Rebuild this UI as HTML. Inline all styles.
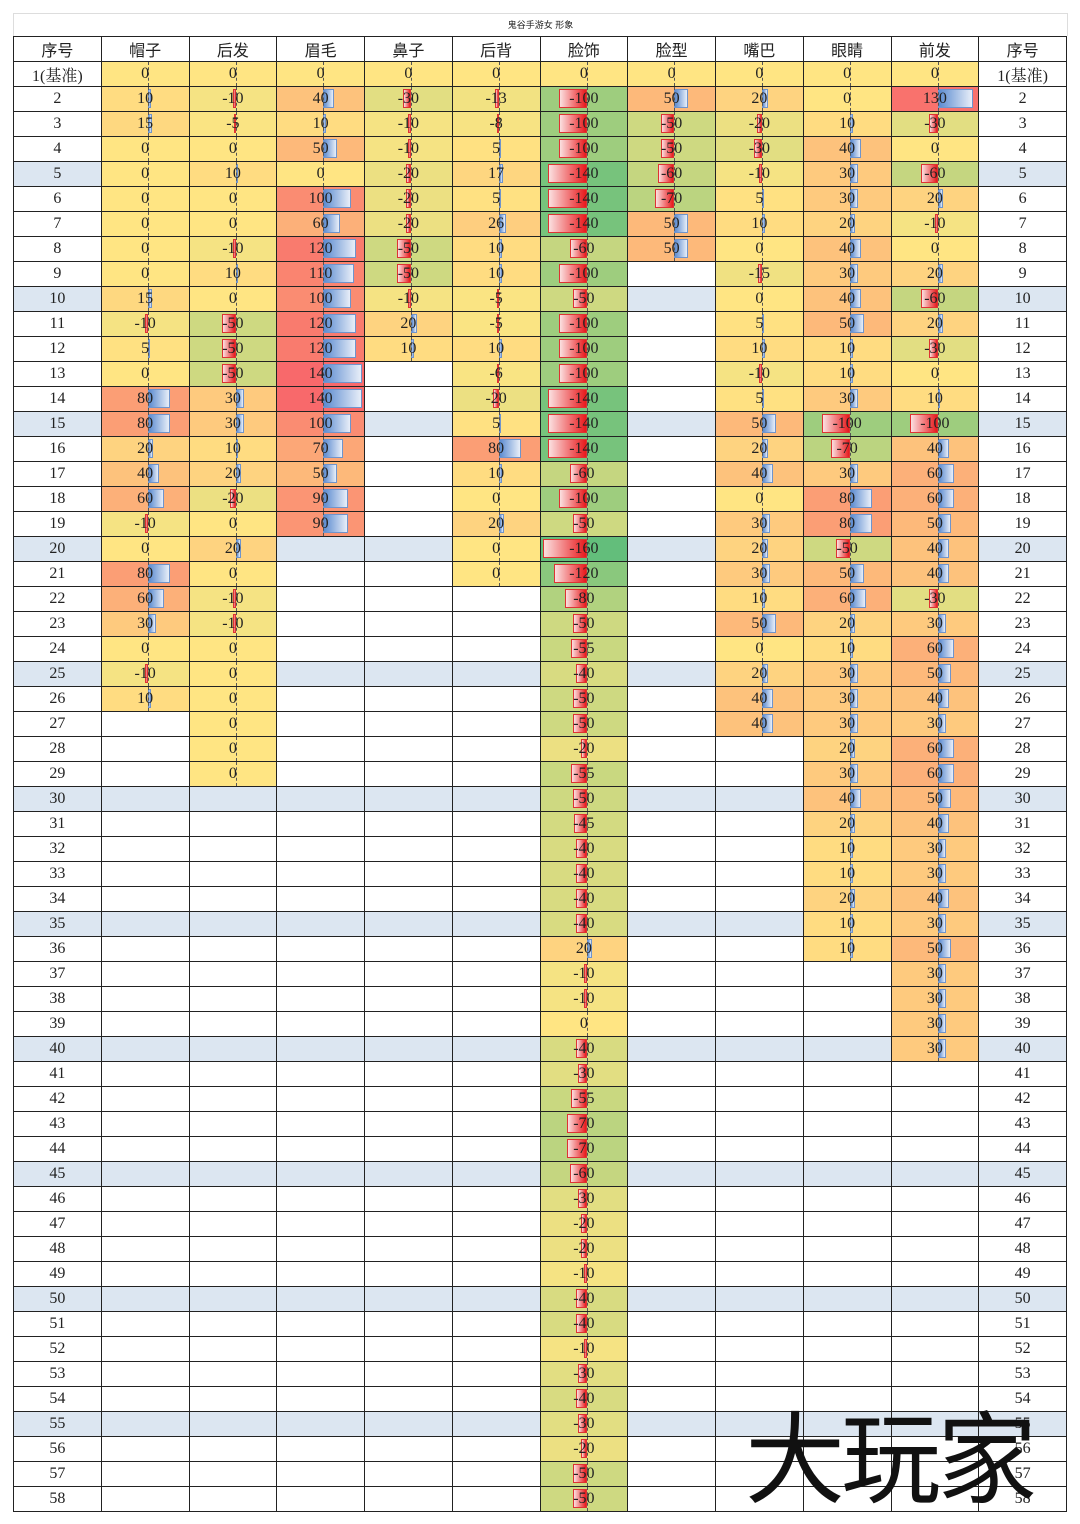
<!DOCTYPE html>
<html><head><meta charset="utf-8">
<style>
body{margin:0;background:#fff;width:1080px;height:1521px;position:relative;overflow:hidden;font-family:"Liberation Serif","Noto Serif CJK SC",serif;}
#title{position:absolute;left:13px;top:13px;width:1053px;height:22px;border:1px solid #ddd;border-bottom:none;font:9px "Liberation Sans","Noto Sans CJK SC",sans-serif;text-align:center;line-height:22px;color:#222}
table{position:absolute;left:13px;top:36px;border-collapse:collapse;table-layout:fixed;width:1054px}
td{border:1px solid #222;height:24px;padding:0;text-align:center;font-size:16px;color:#222;position:relative;overflow:hidden}
th{border:1px solid #222;height:24px;padding:0;font:16px "Liberation Sans","Noto Sans CJK SC",sans-serif;font-weight:normal;color:#222}
.b{position:absolute;top:2px;height:19px}
.ax{position:absolute;top:0;height:24px;border-left:1px dashed #555}
.t{position:relative;line-height:24px}
#big{position:absolute;left:745px;top:1392px;font:100px "Noto Sans CJK SC",sans-serif;color:#111;letter-spacing:-4px;line-height:120px}
</style></head><body>
<div id="title">鬼谷手游女 形象</div>
<table id="tb"></table>
<div id="big">大玩家</div>
<script>
const cols=["帽子","后发","眉毛","鼻子","后背","脸饰","脸型","嘴巴","眼睛","前发"];
const D=[
[0,10,15,0,0,0,0,0,0,15,-10,5,0,80,80,20,40,60,-10,0,80,60,30,0,-10,10],
[0,-10,-5,0,10,0,0,-10,10,0,-50,-50,-50,30,30,10,20,-20,0,20,0,-10,-10,0,0,0,0,0,0],
[0,40,10,50,0,100,60,120,110,100,120,120,140,140,100,70,50,90,90],
[0,-30,-10,-10,-20,-20,-20,-50,-50,-10,20,10],
[0,-13,-8,5,17,5,26,10,10,-5,-5,10,-6,-20,5,80,10,0,20,0,0],
[0,-100,-100,-100,-140,-140,-140,-60,-100,-50,-100,-100,-100,-140,-140,-140,-60,-100,-50,-160,-120,-80,-50,-55,-40,-50,-50,-20,-55,-50,-45,-40,-40,-40,-40,20,-10,-10,0,-40,-30,-55,-70,-70,-60,-30,-20,-20,-10,-40,-40,-10,-30,-40,-30,-20,-50,-50],
[0,50,-50,-50,-60,-70,50,50],
[0,20,-20,-30,-10,5,10,0,-15,0,5,10,-10,5,50,20,40,0,30,20,30,10,50,0,20,40,40],
[0,0,10,40,30,30,20,40,30,40,50,10,10,30,-100,-70,30,80,80,-50,50,60,20,10,30,30,30,20,30,40,20,10,10,20,10,10],
[0,130,-30,0,-60,20,-10,0,20,-60,20,-30,0,10,-100,40,60,60,50,40,40,-30,30,60,50,40,30,60,60,50,40,30,30,40,30,50,30,30,30,30]];
function mix(a,b,t){return 'rgb('+a.map((x,i)=>Math.round(x+(b[i]-x)*t)).join(',')+')'}
const Y=[255,229,131],R=[248,105,107],G=[99,190,123];
let h='<tr><th>序号</th>'+cols.map(c=>'<th>'+c+'</th>').join('')+'<th>序号</th></tr>';
for(let r=0;r<58;r++){
 const band=(r+1)%5==0;const bg=band?'#dce6f1':'#fff';
 const lab=r==0?'1(基准)':(r+1);
 h+='<tr><td style="background:'+bg+'">'+lab+'</td>';
 D.forEach(col=>{
  if(r>=col.length){h+='<td style="background:'+bg+'"></td>';return;}
  const v=col[r];
  let c;
  if(v>0)c=mix(Y,R,Math.min(1,v/140));else if(v<0)c=mix(Y,G,Math.min(1,v/-160));else c=mix(Y,Y,0);
  const ax=46;let bar='';
  const L=Math.min(44,Math.abs(v)*0.275);
  if(v>0)bar='<div class="b" style="left:'+ax+'px;width:'+L+'px;background:linear-gradient(90deg,#5b8bd0,#e8eef8);border:1px solid #6f94cc;box-sizing:border-box"></div>';
  if(v<0)bar='<div class="b" style="left:'+(ax-L)+'px;width:'+L+'px;background:linear-gradient(90deg,#fbe0e0,#e8191c);border:1px solid #d33;box-sizing:border-box"></div>';
  h+='<td style="background:'+c+'">'+bar+'<div class="ax" style="left:'+ax+'px"></div><span class="t">'+v+'</span></td>';
 });
 h+='<td style="background:'+bg+'">'+lab+'</td></tr>';
}
document.getElementById('tb').innerHTML=h;
</script>
</body></html>
